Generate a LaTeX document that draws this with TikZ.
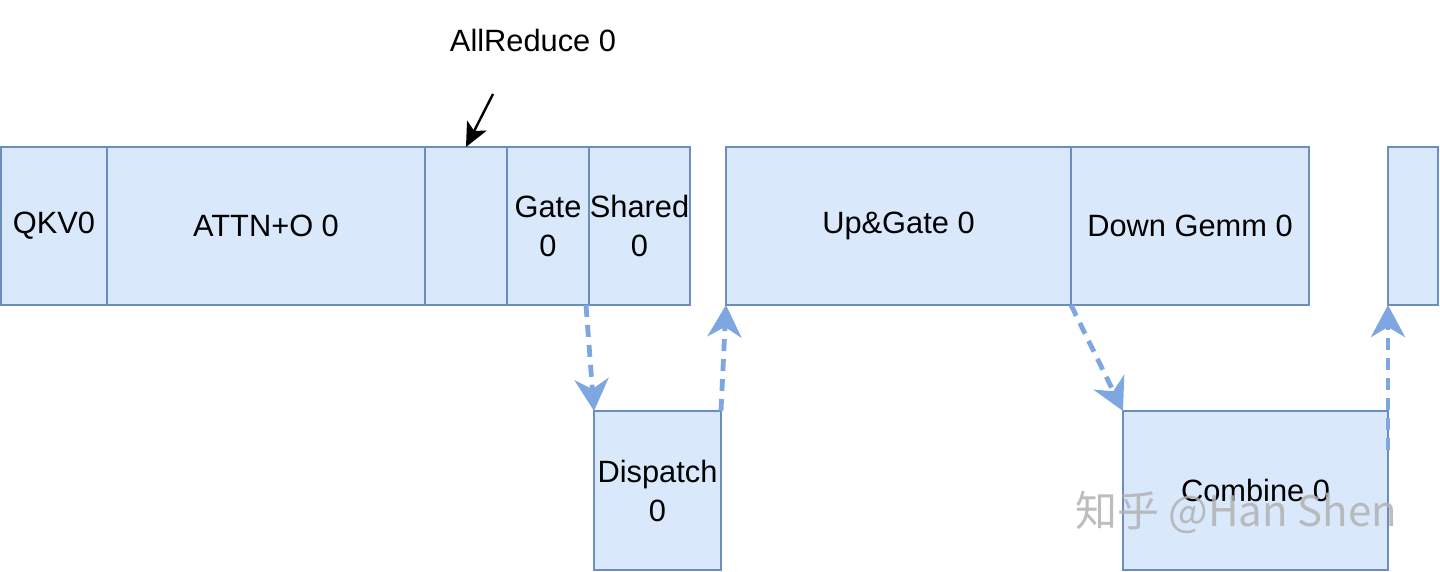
\documentclass[tikz,border=0pt]{standalone}
\usepackage{fontspec}
\setmainfont{Liberation Sans}
\newfontfamily\cjkfont{Noto Sans CJK SC}
\usetikzlibrary{arrows.meta,calc}
\definecolor{boxfill}{HTML}{DAE8FC}
\definecolor{boxline}{HTML}{6C8EBF}
\definecolor{arrowblue}{HTML}{7EA6E0}
\tikzset{
  box/.style={draw=boxline, fill=boxfill, line width=1pt, inner sep=0pt, outer sep=0pt,
    anchor=north west, align=center, font=\fontsize{15.4}{19.5}\selectfont},
  flow/.style={draw=arrowblue, line width=2.4pt, dash pattern=on 6pt off 4pt,
    -{Stealth[length=16pt,width=17pt,inset=5pt,fill=arrowblue]}},
  pointer/.style={draw=black, line width=1.2pt, -{Stealth[length=12pt,width=11pt,inset=3pt]}}
}
\begin{document}
\begin{tikzpicture}[x=0.5pt,y=-0.5pt]
\useasboundingbox (0,0) rectangle (1440,572);
% top row
\node[box, minimum width=53pt, minimum height=79pt] (qkv) at (1,147) {QKV0};
\node[box, minimum width=159pt, minimum height=79pt] (attn) at (107,147) {ATTN+O 0};
\node[box, minimum width=41pt, minimum height=79pt] (ar) at (425,147) {};
\node[box, minimum width=41pt, minimum height=79pt] (gate) at (507,147) {Gate\\0};
\node[box, minimum width=50.5pt, minimum height=79pt] (shared) at (589,147) {Shared\\0};
\node[box, minimum width=172.5pt, minimum height=79pt] (upgate) at (726,147) {Up\&Gate 0};
\node[box, minimum width=119pt, minimum height=79pt] (down) at (1071,147) {Down Gemm 0};
\node[box, minimum width=25pt, minimum height=79pt] (next) at (1388,147) {};
% bottom row
\node[box, minimum width=63.5pt, minimum height=79.5pt] (dispatch) at (594,411) {Dispatch\\0};
\node[box, minimum width=132.5pt, minimum height=79.5pt] (combine) at (1123,411) {Combine 0};
% label
\node[font=\fontsize{15.4}{19.5}\selectfont] (arlabel) at (533,40) {AllReduce 0};
\coordinate (arfrom) at (493,94);
\draw[pointer] (arfrom) -- (ar.north west -| 466,0);
% flows
\draw[flow] ($(gate.south east)+(-3,0)$) -- (dispatch.north west);
\draw[flow] (dispatch.north east) -- (upgate.south west);
\draw[flow] (down.south west) -- (combine.north west);
\coordinate (cstart) at (1388,450);
\draw[flow] (cstart) -- (next.south west);
% watermark
\node[font=\cjkfont\fontsize{21}{24}\selectfont, text=gray!60, opacity=0.85] (wm) at (1236,512) {知乎 @Han Shen};
\end{tikzpicture}
\end{document}
